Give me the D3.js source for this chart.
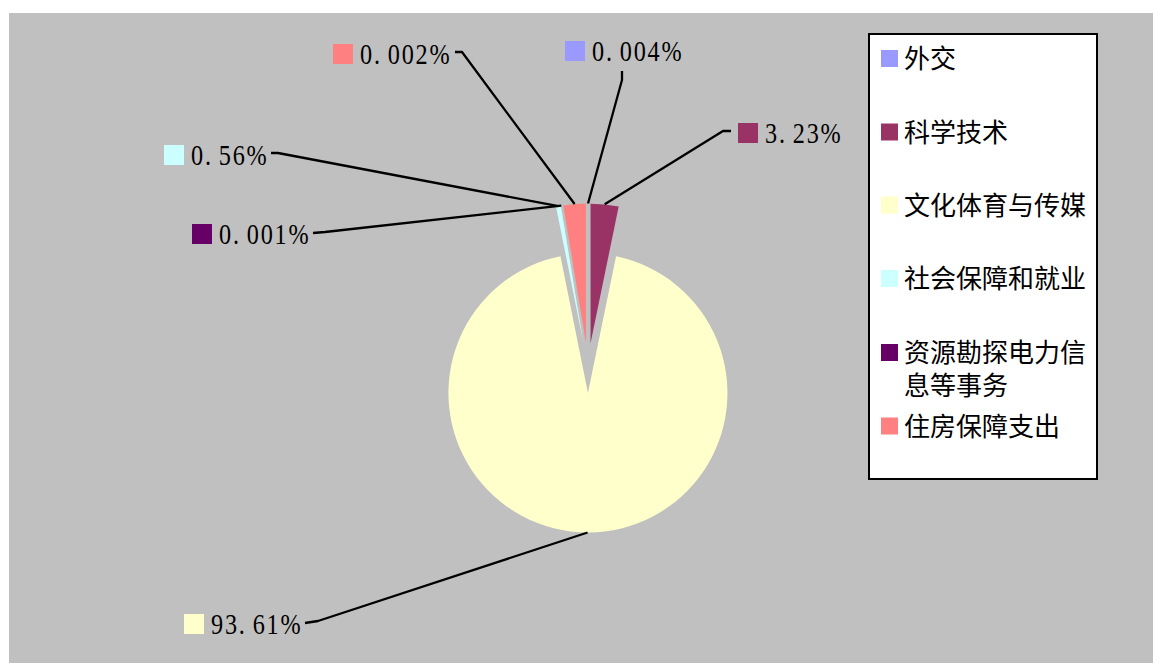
<!DOCTYPE html>
<html>
<head>
<meta charset="utf-8">
<script src="https://cdn.jsdelivr.net/npm/d3@7/dist/d3.min.js"></script>
<style>
html,body{margin:0;padding:0;background:#fff;}
svg{display:block;}
</style>
</head>
<body>
<svg id="chart" width="1153" height="663"></svg>
<script>
// ---- data ----
const categories = ["外交","科学技术","文化体育与传媒","社会保障和就业","资源勘探电力信息等事务","住房保障支出"];
const values = [0.004, 3.23, 93.61, 0.56, 0.001, 2.595];          // slice sizes as read from the wedges
const valueLabels = ["0.004%","3.23%","93.61%","0.56%","0.001%","0.002%"]; // label text as printed
const colors = ["#9999FF","#993366","#FFFFCC","#CCFFFF","#660066","#FF8080"];

// ---- layout ----
const W = 1153, H = 663;
const center = {x: 588, y: 368};
const radius = 139.5;
const explode = 25;
// data-label anchors (swatch top-left) and leader-line start points
const labelLayout = [
  {sx: 565, sy: 41,  line: [[622, 71], [622, 80]]},
  {sx: 738, sy: 123, line: [[731, 131], [723, 131]]},
  {sx: 184, sy: 614, line: [[305, 623], [318, 621]]},
  {sx: 164, sy: 145, line: [[271, 153], [278, 153]]},
  {sx: 192, sy: 224, line: [[313, 233], [325, 232]]},
  {sx: 333, sy: 44,  line: [[455, 52], [462, 52]]}
];
const legendRows = [58.5, 132, 205, 278.5, 352.5, 426];

const svg = d3.select("#chart");

// plot area background
svg.append("rect").attr("x", 9).attr("y", 13).attr("width", W - 9).attr("height", H - 13)
  .attr("fill", "#C0C0C0");

const pie = d3.pie().sort(null).value(d => d).startAngle(0).endAngle(2 * Math.PI);
const arcs = pie(values);
const arcGen = d3.arc().innerRadius(0).outerRadius(radius);

const g = svg.append("g").attr("transform", `translate(${center.x},${center.y})`);
arcs.forEach((a, i) => {
  const mid = (a.startAngle + a.endAngle) / 2;
  const dx = explode * Math.sin(mid), dy = -explode * Math.cos(mid);
  g.append("path")
    .attr("d", arcGen(a))
    .attr("transform", `translate(${dx},${dy})`)
    .attr("fill", colors[i]);
});

// leader lines
arcs.forEach((a, i) => {
  const mid = (a.startAngle + a.endAngle) / 2;
  const tx = center.x + (explode + radius) * Math.sin(mid);
  const ty = center.y - (explode + radius) * Math.cos(mid);
  const pts = labelLayout[i].line.concat([[tx, ty]]);
  svg.append("path")
    .attr("d", d3.line()(pts))
    .attr("fill", "none").attr("stroke", "#000").attr("stroke-width", 2.3)
    .attr("stroke-linejoin", "round");
});

// data labels (monospaced half-width look)
const adv = 13.9, sx = 0.85;
valueLabels.forEach((t, i) => {
  const L = labelLayout[i];
  svg.append("rect").attr("x", L.sx).attr("y", L.sy).attr("width", 20).attr("height", 20)
    .attr("fill", colors[i]);
  const chars = Array.from(t);
  svg.append("text")
    .attr("transform", `translate(${L.sx + 27},${L.sy + 19.5}) scale(${sx},1)`)
    .attr("x", chars.map((c, k) => (k * adv / sx).toFixed(2)).join(" "))
    .attr("y", 0)
    .attr("font-family", "'Liberation Serif','DejaVu Serif',serif")
    .attr("font-size", 28.5)
    .attr("fill", "#000")
    .text(t);
});

// legend
svg.append("rect").attr("x", 869).attr("y", 34).attr("width", 228).attr("height", 445)
  .attr("fill", "#fff").attr("stroke", "#000").attr("stroke-width", 2);
const fs = 26;
categories.forEach((c, i) => {
  const cy = legendRows[i];
  svg.append("rect").attr("x", 881).attr("y", cy - 8.5).attr("width", 17).attr("height", 17)
    .attr("fill", colors[i]);
  const lines = [];
  const chars = Array.from(c);
  for (let k = 0; k < chars.length; k += 7) lines.push(chars.slice(k, k + 7).join(""));
  const txt = svg.append("text")
    .attr("font-family", "'Noto Sans CJK SC','Noto Sans',sans-serif")
    .attr("font-size", fs).attr("fill", "#000");
  lines.forEach((ln, k) => {
    txt.append("tspan").attr("x", 904).attr("y", cy + 9.5 + k * 32.5).text(ln);
  });
});
</script>
</body>
</html>
